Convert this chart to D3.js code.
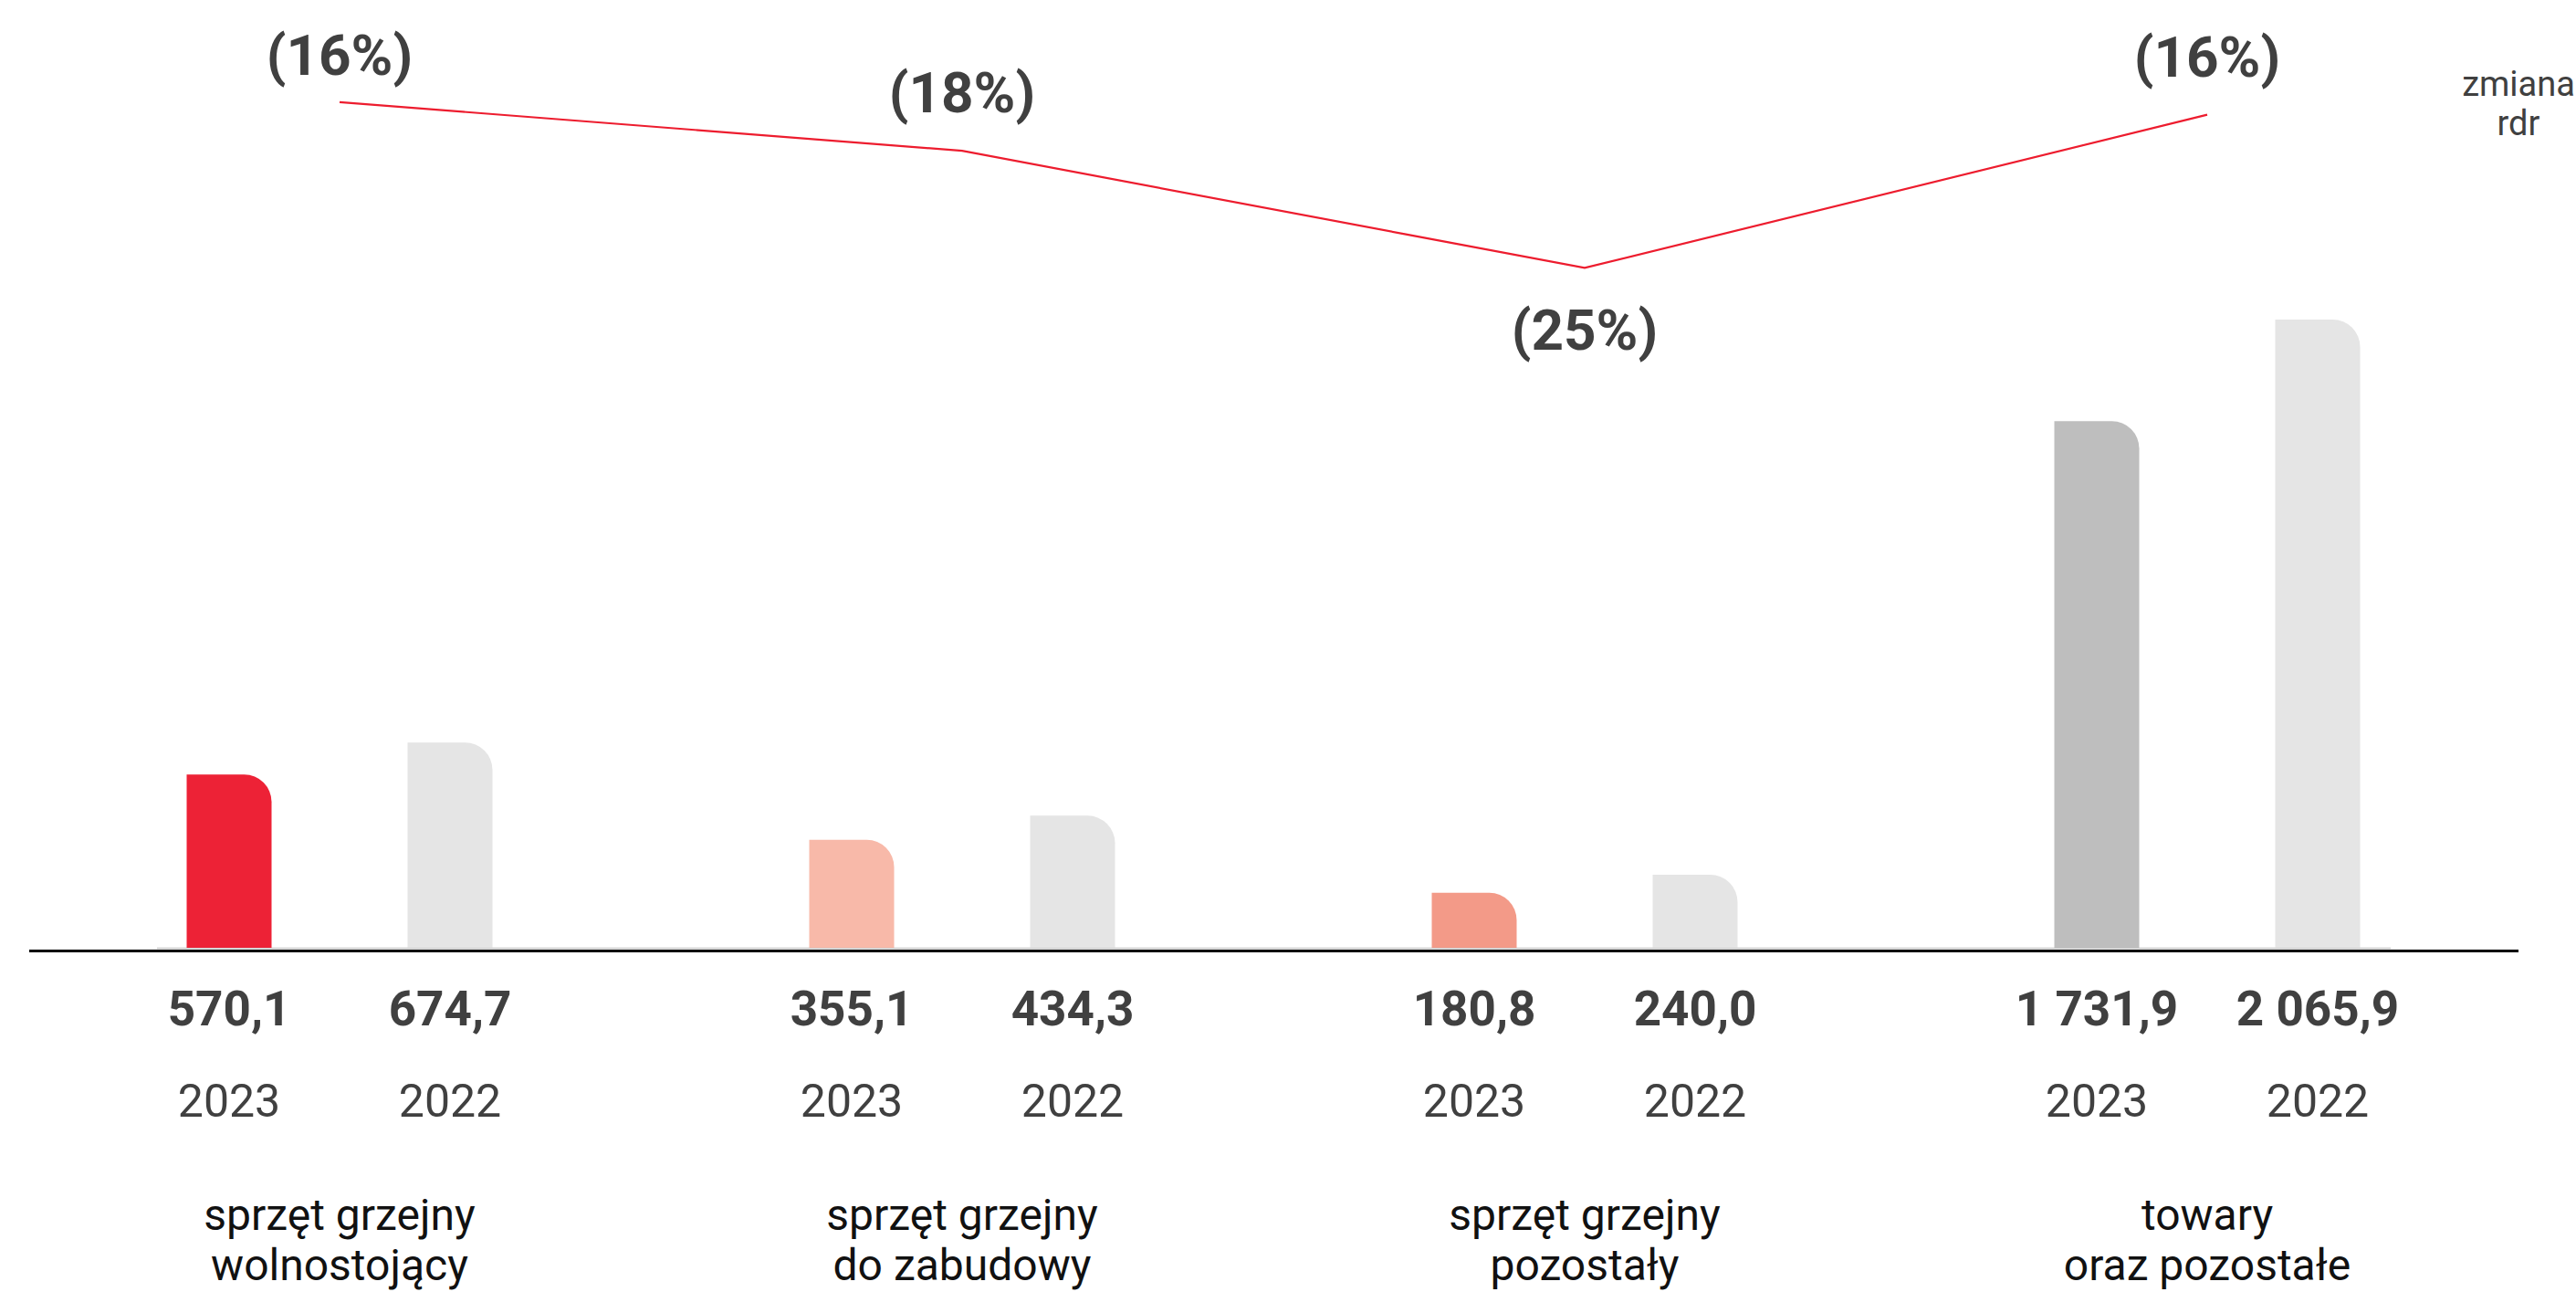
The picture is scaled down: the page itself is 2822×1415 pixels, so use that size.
<!DOCTYPE html>
<html>
<head>
<meta charset="utf-8">
<script src="https://cdn.jsdelivr.net/npm/d3@7"></script>
<style>
  html, body { margin: 0; padding: 0; background: #fff; }
  svg { display: block; font-family: Roboto, 'Noto Sans', sans-serif; }
</style>
</head>
<body>
<svg id="chart" width="2822" height="1415"></svg>
<script>
// Chart data
const categories = [
  ['sprzęt grzejny', 'wolnostojący'],
  ['sprzęt grzejny', 'do zabudowy'],
  ['sprzęt grzejny', 'pozostały'],
  ['towary', 'oraz pozostałe']
];
const years = ['2023', '2022'];
const values2023 = [570.1, 355.1, 180.8, 1731.9];
const values2022 = [674.7, 434.3, 240.0, 2065.9];
const changeYoY = [-15.5, -18.2, -24.7, -16.2];
const changeLabels = ['(16%)', '(18%)', '(25%)', '(16%)'];
const labelSide = ['above', 'above', 'below', 'above'];
const colors2023 = ['#ED2236', '#F8B9A9', '#F39A88', '#BEBEBE'];
const color2022 = '#E5E5E5';

const svg = d3.select('#chart');

const baseY = 1038;
const barWidth = 93;
const radius = 30;
const ink = '#404040';

// Scales
const groupX = d3.scalePoint()
  .domain(d3.range(categories.length))
  .range([372, 2418]);

const barX = d3.scalePoint()
  .domain(years)
  .range([-121, 121]);

const y = d3.scaleLinear()
  .domain([0, 2100])
  .range([baseY, baseY - 2100 * 0.33303]);

const yLine = d3.scaleLinear()
  .domain([-30, 0])
  .range([398, -194]);

const fmt = d3.formatLocale({
  decimal: ',',
  thousands: ' ',
  grouping: [3],
  currency: ['', '']
}).format(',.1f');

// Flatten to bars
const bars = [];
categories.forEach((c, i) => {
  bars.push({ group: i, year: '2023', value: values2023[i], color: colors2023[i] });
  bars.push({ group: i, year: '2022', value: values2022[i], color: color2022 });
});

function barPath(d) {
  const x0 = groupX(d.group) + barX(d.year) - barWidth / 2;
  const x1 = x0 + barWidth;
  const top = y(d.value);
  const r = Math.min(radius, baseY - top);
  return `M${x0},${baseY}L${x0},${top}L${x1 - r},${top}` +
    `A${r},${r} 0 0 1 ${x1},${top + r}L${x1},${baseY}Z`;
}

// thin grey base under the bars
svg.append('line')
  .attr('x1', 172).attr('x2', 2619)
  .attr('y1', baseY + 0.5).attr('y2', baseY + 0.5)
  .attr('stroke', '#c8c8c8')
  .attr('stroke-width', 1.5);

svg.append('g')
  .selectAll('path')
  .data(bars)
  .join('path')
  .attr('d', barPath)
  .attr('fill', d => d.color);

// axis line
svg.append('line')
  .attr('x1', 32).attr('x2', 2759)
  .attr('y1', 1041.5).attr('y2', 1041.5)
  .attr('stroke', '#000')
  .attr('stroke-width', 3);

// value labels
svg.append('g')
  .selectAll('text')
  .data(bars)
  .join('text')
  .attr('x', d => groupX(d.group) + barX(d.year))
  .attr('y', 1123)
  .attr('text-anchor', 'middle')
  .attr('font-size', 53)
  .attr('font-weight', 700)
  .attr('fill', ink)
  .text(d => fmt(d.value));

// year labels
svg.append('g')
  .selectAll('text')
  .data(bars)
  .join('text')
  .attr('x', d => groupX(d.group) + barX(d.year))
  .attr('y', 1223)
  .attr('text-anchor', 'middle')
  .attr('font-size', 50)
  .attr('fill', ink)
  .text(d => d.year);

// category labels
const catText = svg.append('g')
  .selectAll('text')
  .data(categories)
  .join('text')
  .attr('text-anchor', 'middle')
  .attr('font-size', 48)
  .attr('fill', '#111');

catText.selectAll('tspan')
  .data((d, i) => d.map(line => ({ line, i })))
  .join('tspan')
  .attr('x', d => groupX(d.i))
  .attr('y', (d, j) => 1347 + j * 55)
  .text(d => d.line);

// YoY change line
const line = d3.line()
  .x((d, i) => groupX(i))
  .y(d => yLine(d));

svg.append('path')
  .datum(changeYoY)
  .attr('d', line)
  .attr('fill', 'none')
  .attr('stroke', '#ED1C2E')
  .attr('stroke-width', 2.2);

svg.append('g')
  .selectAll('text')
  .data(changeYoY)
  .join('text')
  .attr('x', (d, i) => groupX(i))
  .attr('y', (d, i) => labelSide[i] === 'below'
    ? yLine(d) + 90
    : Math.max(82, yLine(d) - 42))
  .attr('text-anchor', 'middle')
  .attr('font-size', 62)
  .attr('font-weight', 700)
  .attr('fill', ink)
  .text((d, i) => changeLabels[i]);

// series note
svg.append('text')
  .attr('text-anchor', 'middle')
  .attr('font-size', 38)
  .attr('fill', ink)
  .selectAll('tspan')
  .data(['zmiana', 'rdr'])
  .join('tspan')
  .attr('x', 2759)
  .attr('y', (d, i) => 105 + i * 43)
  .text(d => d);
</script>
</body>
</html>
